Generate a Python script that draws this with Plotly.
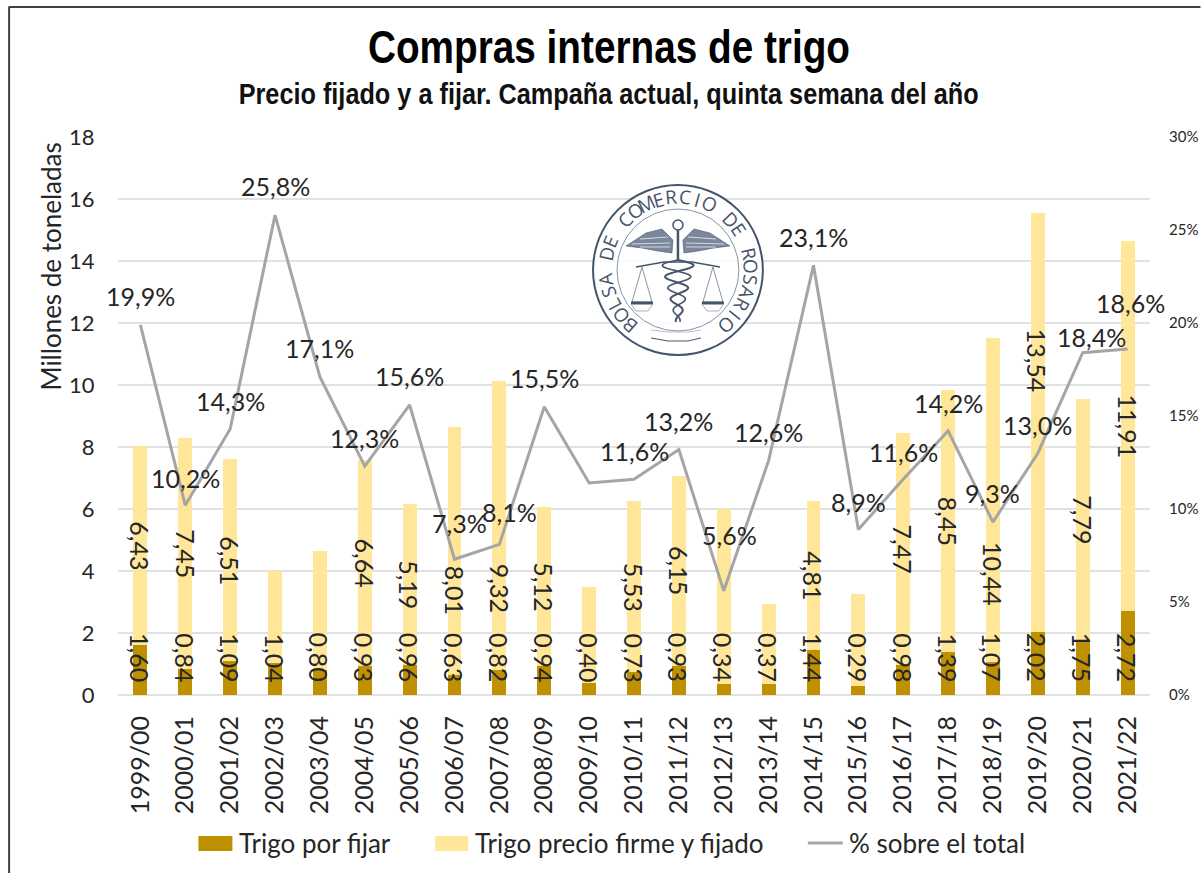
import math
import plotly.graph_objects as go

campaigns = ["1999/00","2000/01","2001/02","2002/03","2003/04","2004/05","2005/06","2006/07",
             "2007/08","2008/09","2009/10","2010/11","2011/12","2012/13","2013/14","2014/15",
             "2015/16","2016/17","2017/18","2018/19","2019/20","2020/21","2021/22"]
por_fijar = [1.60,0.84,1.09,1.04,0.80,0.93,0.96,0.63,0.82,0.94,0.40,0.73,0.93,0.34,0.37,1.44,
             0.29,0.98,1.39,1.07,2.02,1.75,2.72]
firme = [6.43,7.45,6.51,2.96,3.85,6.64,5.19,8.01,9.32,5.12,3.10,5.53,6.15,5.66,2.55,4.81,
         2.96,7.47,8.45,10.44,13.54,7.79,11.91]
pct = [19.9,10.2,14.3,25.8,17.1,12.3,15.6,7.3,8.1,15.5,11.4,11.6,13.2,5.6,12.6,23.1,8.9,11.6,
       14.2,9.3,13.0,18.4,18.6]
# Labels that the original chart does not print
firme_hidden = {"2002/03","2003/04","2009/10","2012/13","2013/14","2015/16"}
pct_hidden = {"2009/10"}
# Hand placement of labels (pixels from the default spot)
pct_dx = [0,0,0,0,0,0,0,5,10,0,0,0,0,6,0,0,0,0,0,0,0,9,3]
pct_dy = [29,27,28,29,29,28,29,36,32,29,0,28,28,56,29,28,27,27,28,29,28,16,46]
firme_dy = [0,0,0,0,0,0,0,-39,-63,0,0,0,0,0,0,0,0,0,0,-74,62,0,0]

W, H = 1201, 873
L, R, T, B = 117.5, 1150.5, 137, 695
FONT = "Lato, Carlito, Calibri, sans-serif"
INK = "#262626"
GOLD, CREAM, GREY, GRID = "#BF9000", "#FFE699", "#A5A5A5", "#E1E1E1"
NAVY = "#44546A"

def px(x): return (x - L) / (R - L)
def py(y): return (B - y) / (B - T)

fig = go.Figure()
fig.add_bar(x=campaigns, y=por_fijar, name="Trigo por fijar", marker_color=GOLD, marker_line_width=0)
fig.add_bar(x=campaigns, y=firme, name="Trigo precio firme y fijado", marker_color=CREAM, marker_line_width=0)
fig.add_scatter(x=campaigns, y=pct, name="% sobre el total", mode="lines", yaxis="y2",
                line=dict(color=GREY, width=3))

ann = []
shapes = []
def es(v, d=2): return f"{v:.{d}f}".replace(".", ",")

for i, c in enumerate(campaigns):
    ann.append(dict(x=c, y=0, xref="x", yref="y", text=es(por_fijar[i]), textangle=90, showarrow=False,
                    yanchor="bottom", yshift=11, font=dict(family=FONT, size=25, color=INK)))
    if c not in firme_hidden:
        ann.append(dict(x=c, y=por_fijar[i] + firme[i] / 2, xref="x", yref="y", text=es(firme[i]), textangle=90,
                        yshift=firme_dy[i], showarrow=False, font=dict(family=FONT, size=25, color=INK)))
    if c not in pct_hidden:
        ann.append(dict(x=c, y=pct[i], xref="x", yref="y2", text=es(pct[i], 1) + "%", showarrow=False,
                        xshift=pct_dx[i], yshift=pct_dy[i], font=dict(family=FONT, size=25, color=INK)))

def text_at(x, y, t, size, **kw):
    fam = kw.pop("family", FONT)
    col = kw.pop("color", INK)
    wgt = kw.pop("weight", 400)
    opts = dict(xanchor="center", yanchor="middle")
    opts.update(kw)
    ann.append(dict(x=px(x), y=py(y), xref="paper", yref="paper", text=t, showarrow=False,
                    font=dict(family=fam, size=size, color=col, weight=wgt), **opts))

text_at(50, 267, "Millones de toneladas", 26, textangle=-90)
text_at(608, 94, "Precio fijado y a fijar. Campaña actual, quinta semana del año", 29,
        family="Liberation Sans", color="#111111", weight=700)

# Frame
def pline(x0, y0, x1, y1, color, width):
    shapes.append(dict(type="line", xref="paper", yref="paper", x0=px(x0), y0=py(y0), x1=px(x1), y1=py(y1),
                       line=dict(color=color, width=width)))
pline(8, 7, W, 7, "#404040", 2)
pline(8.5, 7, 8.5, H, "#404040", 2)

# Legend
def swatch(x0, x1, color):
    shapes.append(dict(type="rect", xref="paper", yref="paper", x0=px(x0), x1=px(x1), y0=py(836), y1=py(851),
                       fillcolor=color, line_width=0))
swatch(198, 232, GOLD)
text_at(237, 843, "Trigo por fijar", 26, xanchor="left")
swatch(435, 468, CREAM)
text_at(473, 843, "Trigo precio firme y fijado", 26, xanchor="left")
pline(808, 843, 843, 843, GREY, 3)
text_at(847, 843, "% sobre el total", 26, xanchor="left")

# Seal of the Bolsa de Comercio de Rosario
CX, CY = 678, 270
def lx(x): return px(CX + x)
def ly(y): return py(CY + y)
def circle(r, fill=None, color=NAVY, width=1.5, ox=0, oy=0):
    shapes.append(dict(type="circle", xref="paper", yref="paper", x0=lx(ox - r), x1=lx(ox + r),
                       y0=ly(oy - r), y1=ly(oy + r), fillcolor=fill or "rgba(0,0,0,0)",
                       line=dict(color=color, width=width)))
def path(points, color=NAVY, width=1.2, fill=None, close=False):
    d = "M" + " L".join(f"{lx(a):.5f},{ly(b):.5f}" for a, b in points) + (" Z" if close else "")
    shapes.append(dict(type="path", xref="paper", yref="paper", path=d, fillcolor=fill or "rgba(0,0,0,0)",
                       line=dict(color=color, width=width)))

circle(85, fill="rgba(255,255,255,0.85)", width=2)
circle(61, width=1, color="#8793A6")
seal = "BOLSA DE COMERCIO DE ROSARIO"
for k, ch in enumerate(seal):
    a = -139 + 278 * k / (len(seal) - 1)
    r = 73
    text_at(CX + r * math.sin(math.radians(a)), CY - r * math.cos(math.radians(a)), ch, 19, textangle=a,
            family="Open Sans", color=NAVY)
for sgn in (-1, 1):
    path([(sgn*5,-30),(sgn*16,-41),(sgn*32,-37),(sgn*52,-24),(sgn*36,-22),(sgn*20,-19),(sgn*6,-17)],
         fill="#7B879B", width=0.6, close=True)
    for a0, b0, a1, b1 in [(8,-27,46,-26),(8,-23,38,-23),(10,-33,38,-31)]:
        path([(sgn*a0,b0),(sgn*a1,b1)], color="#FFFFFF", width=0.7)
path([(0,-50),(0,-10)], width=2.5)
circle(5, fill="#FFFFFF", oy=-45, width=1.5)
path([(-42,-3),(-14,-8),(14,-8),(42,-3)], width=1.3)
for x0 in (-36, 35):
    path([(x0,-3),(x0-10,32),(x0+10,32)], width=0.8, close=True, color="#6B7789")
    path([(x0-11,33),(x0+11,33)], width=3)
    path([(x0-11,34),(x0-6,41),(x0+6,41),(x0+11,34)], width=0.7, color="#8793A6")
# Two snakes wound around the staff
for phase, w in ((0.0, 2.0), (math.pi, 1.6)):
    strand = []
    for s in range(61):
        t = s / 60
        strand.append(((15 * (1 - t) + 2) * math.sin(phase + t * 5.5 * math.pi), -10 + t * 62))
    path(strand, width=w)
path([(-27,68),(-10,71),(10,71),(23,68)], width=1)
path([(-27,60),(-10,62),(10,62),(23,60)], width=0.6, color="#8793A6")

fig.update_layout(
    width=W, height=H, autosize=False, margin=dict(l=L, r=W - R, t=T, b=H - B),
    paper_bgcolor="#FFFFFF", plot_bgcolor="#FFFFFF", barmode="stack", bargap=0.69,
    showlegend=False,
    title=dict(text="Compras internas de trigo", x=609 / W, y=1 - 47 / H, xref="container", yref="container",
               xanchor="center", yanchor="middle",
               font=dict(family="Liberation Sans", size=46, color="#000000", weight=700)),
    xaxis=dict(type="category", range=[-0.5, 22.5], automargin=False, tickangle=-90, showgrid=False, showline=False,
               ticks="outside", ticklen=10, tickcolor="rgba(0,0,0,0)", tickfont=dict(family=FONT, size=25, color=INK)),
    yaxis=dict(range=[0, 18], dtick=2, automargin=False, showgrid=True, gridcolor=GRID, gridwidth=2, zeroline=True,
               zerolinecolor=GRID, zerolinewidth=2, ticks="outside", ticklen=18, tickcolor="rgba(0,0,0,0)",
               tickfont=dict(family=FONT, size=22, color=INK)),
    yaxis2=dict(range=[0, 30], dtick=5, automargin=False, overlaying="y", side="right", showgrid=False, zeroline=False,
                ticksuffix="%", ticks="outside", ticklen=15, tickcolor="rgba(0,0,0,0)",
                tickfont=dict(family=FONT, size=15, color=INK)),
    annotations=ann, shapes=shapes,
)
# Condense the two headings to the width of the narrow face used in the original
squeeze = """
function fit(el, w) { el.setAttribute('textLength', w); el.setAttribute('lengthAdjust', 'spacingAndGlyphs'); }
document.querySelectorAll('text').forEach(function (t) {
  if (t.textContent.indexOf('Compras internas') === 0) fit(t, 482);
  if (t.textContent.indexOf('Precio fijado') === 0) fit(t, 740);
});
document.body.style.margin = '0';
"""
fig.write_html("out.html", post_script=squeeze, config={"displayModeBar": False})
